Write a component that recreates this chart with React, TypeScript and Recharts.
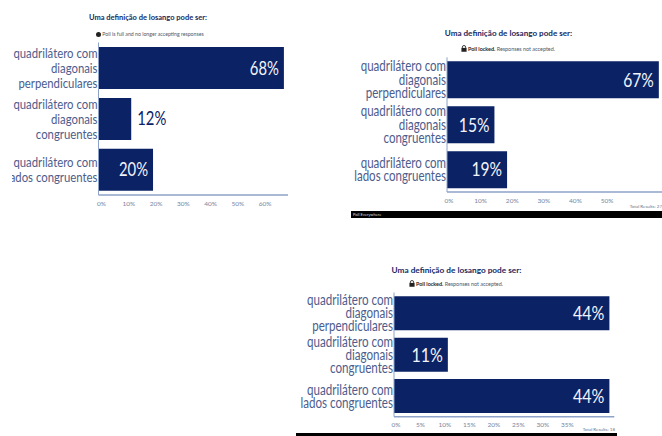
import { BarChart, Bar, XAxis, YAxis, LabelList } from "recharts";

const categories = [
  "quadrilátero com\ndiagonais\nperpendiculares",
  "quadrilátero com\ndiagonais\ncongruentes",
  "quadrilátero com\nlados congruentes",
];
const firstPoll = [68, 12, 20];
const secondPoll = [67, 15, 19];
const thirdPoll = [44, 11, 44];
const firstTicks = [0, 10, 20, 30, 40, 50, 60];
const secondTicks = [0, 10, 20, 30, 40, 50];
const thirdTicks = [0, 5, 10, 15, 20, 25, 30, 35];
const pollTitle = "Uma definição de losango pode ser:";

const NAVY = "#0b2265";
const AXIS = "#8ea2c9";
const FONT = "Lato, 'Noto Sans', sans-serif";

// Lato runs wide for these labels, so squeeze it around the anchor
const squeeze = (x: number, k: number) => `translate(${x} 0) scale(${k} 1) translate(${-x} 0)`;

function CategoryTick({ x, y, payload, fontSize, lineHeight }: any) {
  const lines = String(payload.value).split("\n");
  const startY = y - ((lines.length - 1) * lineHeight) / 2;
  return (
    <text
      x={x}
      y={startY}
      textAnchor="end"
      fontFamily={FONT}
      fontSize={fontSize}
      fill="#4d5c8c"
      transform={squeeze(x, 0.8)}
    >
      {lines.map((line: string, i: number) => (
        <tspan key={i} x={x} y={startY + i * lineHeight} dy="0.35em">
          {line}
        </tspan>
      ))}
    </text>
  );
}

// small bars get their percentage outside, the rest sit inside the right end
function ValueLabel({ x, y, width, height, value, outsideBelow, fontSize }: any) {
  const outside = value < outsideBelow;
  const anchorX = outside ? x + width + 6 : x + width - 5;
  return (
    <text
      x={anchorX}
      y={y + height / 2}
      dy="0.35em"
      textAnchor={outside ? "start" : "end"}
      fontFamily={FONT}
      fontSize={fontSize}
      fill={outside ? NAVY : "#f2f4fa"}
      transform={squeeze(anchorX, 0.8)}
    >
      {value}%
    </text>
  );
}

function PollChart({ values, ticks, domainMax, left, top, width, height, yAxisWidth, marginTop, marginRight, axisHeight, labelSize, lineHeight, valueSize, outsideBelow, tickShift }: any) {
  const rows = categories.map((name, i) => ({ name, value: values[i] }));
  return (
    <div style={{ position: "absolute", left, top }}>
      <BarChart
        width={width}
        height={height}
        data={rows}
        layout="vertical"
        barCategoryGap="9%"
        margin={{ top: marginTop, right: marginRight, bottom: 0, left: 0 }}
      >
        <XAxis
          type="number"
          domain={[0, domainMax]}
          ticks={ticks}
          height={axisHeight}
          tickFormatter={(v) => `${v}%`}
          tick={{ fontSize: 6.5, fill: "#75859f", fontFamily: FONT, dx: tickShift }}
          tickLine={false}
          tickMargin={0}
          axisLine={{ stroke: AXIS, strokeWidth: 1.5 }}
        />
        <YAxis
          type="category"
          dataKey="name"
          width={yAxisWidth}
          interval={0}
          tickLine={false}
          tickSize={0}
          tickMargin={1}
          axisLine={{ stroke: AXIS, strokeWidth: 1 }}
          tick={<CategoryTick fontSize={labelSize} lineHeight={lineHeight} />}
        />
        <Bar dataKey="value" fill={NAVY} isAnimationActive={false}>
          <LabelList dataKey="value" content={<ValueLabel outsideBelow={outsideBelow} fontSize={valueSize} />} />
        </Bar>
      </BarChart>
    </div>
  );
}

function Caption({ left, top, width, size = 8, children }: any) {
  return (
    <div
      style={{
        position: "absolute",
        left,
        top,
        width,
        textAlign: "center",
        whiteSpace: "nowrap",
        fontFamily: FONT,
        fontSize: size,
        lineHeight: "10px",
        color: "#4f5766",
      }}
    >
      {children}
    </div>
  );
}

function Title({ left, top, width, size }: any) {
  return (
    <Caption left={left} top={top} width={width} size={size}>
      <b style={{ color: "#17295f" }}>{pollTitle}</b>
    </Caption>
  );
}

function LockIcon() {
  return (
    <svg width="6" height="7" viewBox="0 0 7 8" style={{ marginRight: 1, verticalAlign: -1 }}>
      <path d="M1.6 3.4V2.4a1.9 1.9 0 0 1 3.8 0v1" fill="none" stroke="#222" />
      <rect x="0.5" y="3.3" width="6" height="4.5" fill="#222" />
    </svg>
  );
}

function LockedNote({ left, top, width }: any) {
  return (
    <Caption left={left} top={top} width={width} size={5.4}>
      <LockIcon />
      <b style={{ color: "#222" }}>Poll locked.</b> Responses not accepted.
    </Caption>
  );
}

function Footer({ left, top, width, height, brand }: any) {
  return (
    <div
      style={{
        position: "absolute",
        left,
        top,
        width,
        height,
        background: "#000",
        color: "#ddd",
        fontFamily: FONT,
        fontSize: 4,
        lineHeight: `${height}px`,
        paddingLeft: 2,
        boxSizing: "border-box",
      }}
    >
      {brand}
    </div>
  );
}

function Total({ right, top, text }: any) {
  return (
    <div style={{ position: "absolute", right, top, fontFamily: FONT, fontSize: 4.5, lineHeight: "6px", color: "#66758f", whiteSpace: "nowrap" }}>
      {text}
    </div>
  );
}

export default function App() {
  return (
    <div style={{ position: "absolute", left: 0, top: 0, width: 662, height: 436, background: "#fff", overflow: "hidden" }}>
      <Title left={48} top={13} width={200} size={7.5} />
      <Caption left={50} top={29} width={200} size={5.2}>
        <span
          style={{ display: "inline-block", width: 5, height: 5, borderRadius: 3, background: "#222", marginRight: 1, verticalAlign: -1 }}
        />
        Poll is full and no longer accepting responses
      </Caption>
      <PollChart
        values={firstPoll}
        ticks={firstTicks}
        domainMax={69.5}
        left={12}
        top={0}
        width={276}
        height={218}
        yAxisWidth={86.5}
        marginTop={42.5}
        marginRight={0}
        axisHeight={23}
        labelSize={14.2}
        lineHeight={15}
        valueSize={18.5}
        outsideBelow={15}
        tickShift={3}
      />

      <Title left={408.5} top={28} width={200} size={8.1} />
      <LockedNote left={408} top={44} width={200} />
      <PollChart
        values={secondPoll}
        ticks={secondTicks}
        domainMax={68}
        left={340}
        top={20}
        width={322}
        height={190}
        yAxisWidth={107}
        marginTop={37.3}
        marginRight={0}
        axisHeight={18}
        labelSize={14.4}
        lineHeight={13.5}
        valueSize={19.5}
        outsideBelow={10}
        tickShift={2}
      />
      <Total right={0} top={204} text="Total Results: 27" />
      <Footer left={351} top={211} width={311} height={7} brand="Poll Everywhere" />

      <Title left={356.5} top={265} width={200} size={8.25} />
      <LockedNote left={356} top={279} width={200} />
      <PollChart
        values={thirdPoll}
        ticks={thirdTicks}
        domainMax={45}
        left={290}
        top={260}
        width={330}
        height={173}
        yAxisWidth={104}
        marginTop={32.5}
        marginRight={5.7}
        axisHeight={16.3}
        labelSize={14.5}
        lineHeight={13}
        valueSize={20}
        outsideBelow={10}
        tickShift={2}
      />
      <Total right={47} top={427} text="Total Results: 18" />
      <Footer left={296} top={433} width={321} height={3} brand="" />
    </div>
  );
}
